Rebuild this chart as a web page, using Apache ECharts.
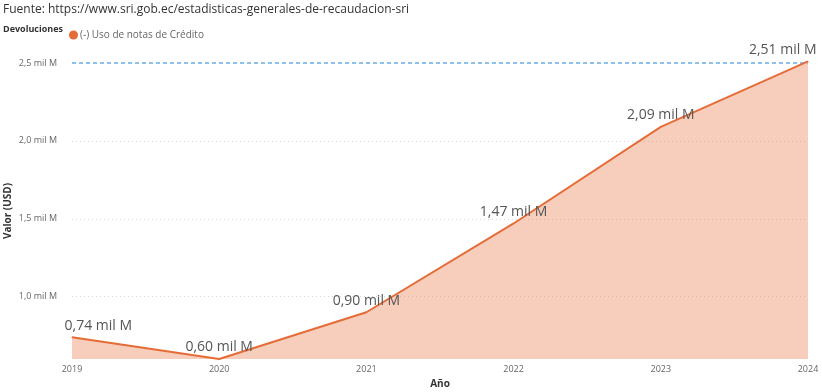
<!DOCTYPE html>
<html><head><meta charset="utf-8">
<script src="https://cdn.jsdelivr.net/npm/echarts@6/dist/echarts.min.js"></script>
<style>html,body{margin:0;padding:0;background:#fff}#c{width:822px;height:392px}</style>
</head><body><div id="c"></div>
<script>
const years = ['2019','2020','2021','2022','2023','2024'];
const values = [0.74, 0.60, 0.90, 1.47, 2.09, 2.51];
const gridValues = [1.0, 1.5, 2.0];
const maxLineValue = 2.5;
const yTickLabels = [1.0, 1.5, 2.0, 2.5];

const fmt = v => v.toFixed(2).replace('.', ',') + ' mil M';
const fmtAxis = v => v.toFixed(1).replace('.', ',') + ' mil M';
const font = '"Segoe UI", "Open Sans", "DejaVu Sans", sans-serif';

const chart = echarts.init(document.getElementById('c'), null, {renderer: 'canvas'});
const seriesData = values.map((v, i) => {
  const d = {value: v};
  if (i === 0) d.label = {position: [-7, -4], align: 'left', verticalAlign: 'bottom'};
  if (i === values.length - 1) d.label = {position: [9, -4], align: 'right', verticalAlign: 'bottom'};
  return d;
});
const markLines = gridValues.map(v => ({yAxis: v, lineStyle: {color: '#d6d6d6', type: [1, 3], width: 1}}));
markLines.push({yAxis: maxLineValue, lineStyle: {color: '#8cc0ee', type: [4, 3], width: 2}});

chart.setOption({
  animation: false,
  textStyle: {fontFamily: font},
  title: {
    text: 'Fuente: https://www.sri.gob.ec/estadisticas-generales-de-recaudacion-sri',
    left: -2, top: -1,
    textStyle: {fontFamily: font, fontSize: 12, fontWeight: 'normal', color: '#333'}
  },
  graphic: [
    {type: 'text', left: 3, top: 25, style: {text: 'Devoluciones', font: 'bold 9px ' + font, fill: '#333'}},
    {type: 'text', x: 8, y: 211, rotation: Math.PI / 2,
     style: {text: 'Valor (USD)', font: 'bold 10px ' + font, fill: '#333', align: 'center', verticalAlign: 'middle'}}
  ],
  legend: {
    left: 64, top: 25, itemWidth: 9, itemHeight: 9, icon: 'circle', itemGap: 4,
    textStyle: {fontSize: 10, color: '#666', padding: [0, 0, 0, -3]},
    data: ['(-) Uso de notas de Crédito']
  },
  grid: {left: 72, right: 14, top: 63, bottom: 33, outerBoundsMode: 'none', containLabel: false},
  xAxis: {
    type: 'category', data: years, boundaryGap: false,
    name: 'Año', nameLocation: 'middle', nameGap: 20, nameMoveOverlap: false,
    nameTextStyle: {fontSize: 10, fontWeight: 'bold', color: '#333'},
    axisLine: {show: false}, axisTick: {show: false},
    axisLabel: {fontSize: 9, color: '#666', margin: 6}
  },
  yAxis: {
    type: 'value', min: 0.6, max: 2.5,
    axisLine: {show: false}, axisTick: {show: false}, splitLine: {show: false},
    axisLabel: {customValues: yTickLabels, formatter: v => fmtAxis(v), fontSize: 9, color: '#666', margin: 15}
  },
  series: [{
    name: '(-) Uso de notas de Crédito',
    type: 'line', data: seriesData, clip: false,
    symbol: 'circle', symbolSize: 1, showSymbol: true,
    lineStyle: {color: '#E66C37', width: 2},
    itemStyle: {color: '#E66C37'},
    areaStyle: {color: 'rgba(235,135,95,0.6)', origin: 'start'},
    label: {show: true, position: 'top', distance: 4, formatter: p => fmt(p.value), fontSize: 14, color: '#555'},
    labelLayout: {hideOverlap: false},
    markLine: {silent: true, symbol: 'none', label: {show: false}, data: markLines, z: 1}
  }]
});
</script></body></html>
